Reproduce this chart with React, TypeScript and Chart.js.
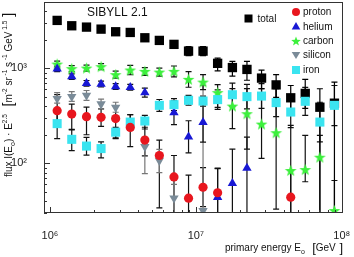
import React, { useEffect, useRef } from 'react';
import { Chart, registerables } from 'chart.js';
Chart.register(...registerables);

// primary energy bin centres [GeV]
const energy = [1.12e6, 1.41e6, 1.78e6, 2.24e6, 2.82e6, 3.55e6, 4.47e6, 5.62e6, 7.08e6, 8.91e6,
  1.12e7, 1.41e7, 1.78e7, 2.24e7, 2.82e7, 3.55e7, 4.47e7, 5.62e7, 7.08e7, 8.91e7];

const total = [3200, 2810, 2720, 2590, 2430, 2390, 2100, 1970, 1790, 1520, 1520, 1130, 1020, 975, 790, 670, 490, 545, 390, 430];
const totalHi = [3380, 2970, 2870, 2730, 2570, 2520, 2220, 2080, 1900, 1700, 1700, 1280, 1185, 1185, 960, 860, 660, 765, 610, 715];
const totalLo = [3030, 2660, 2580, 2460, 2300, 2270, 1990, 1870, 1690, 1360, 1360, 940, 830, 750, 610, 495, 355, 380, 20, 20];

const proton = [359, 330, 310, 305, 296, 239, 176, 121, 72, 43, 56, 49, null, null, null, null, 44, null, null, null];
const protonHi = [530, 420, 390, 375, 400, 325, 240, 176, 121, 75, 90, 88, null, null, null, null, 84, null, null, null];
const protonLo = [250, 225, 200, 245, 185, 150, 120, 34, 20, 20, 35, 20, null, null, null, null, 20, null, null, null];

const helium = [990, 818, 695, 684, 642, 631, 555, null, 342, 190, 270, 44, 61.5, 89, null, null, null, null, null, null];
const heliumHi = [1060, 875, 745, 735, 690, 680, 620, null, 456, 281, 437, 89, 141, 189, null, null, null, null, null, null];
const heliumLo = [925, 765, 650, 640, 600, 590, 497, null, 256, 129, 167, 20, 20, 20, null, null, null, null, null, null];

const carbon = [1110, 993, 1007, 1042, 859, 960, 930, 914, 930, 766, 717, 555, 401, 333, 259, 210, 84, 86, 116, 31.8];
const carbonHi = [1190, 1070, 1080, 1120, 935, 1075, 1020, 1005, 1060, 925, 860, 673, 611, 611, 611, 636, 251, 197, 197, 66];
const carbonLo = [1035, 925, 935, 970, 790, 857, 845, 830, 815, 633, 598, 389, 232, 141, 113, 33, 20, 64, 20, 20];

const silicon = [480, 504, 520, 421, 388, null, 150, 107, 43, null, 31.8, null, null, null, null, null, null, null, null, null];
const siliconHi = [555, 570, 585, 475, 440, null, 176, 140, 60, null, 662, null, null, null, null, null, null, null, null, null];
const siliconLo = [430, 450, 460, 375, 345, null, 78, 80, 30, null, 20, null, null, null, null, null, null, null, null, null];

const iron = [262, 179, 152, 143, 213, 272, 279, 408, 415, 461, 453, 469, 528, 504, 511, 436, 347, 450, 272, 408];
const ironHi = [350, 228, 188, 168, 239, 326, 320, 470, 480, 520, 510, 595, 700, 680, 690, 610, 505, 630, 440, 660];
const ironLo = [182, 136, 122, 114, 182, 222, 230, 352, 360, 410, 400, 370, 395, 375, 380, 310, 238, 320, 168, 250];

const xTicks = [1e6, 2e6, 3e6, 4e6, 5e6, 6e6, 7e6, 8e6, 9e6, 1e7, 2e7, 3e7, 4e7, 5e7, 6e7, 7e7, 8e7, 9e7, 1e8];
const yTicks = [30, 40, 50, 60, 70, 80, 90, 100, 200, 300, 400, 500, 600, 700, 800, 900, 1000, 2000, 3000, 4000];

const FONT = '"Liberation Sans", Arial, sans-serif';
const C_PROTON = '#e8161e';
const C_HELIUM = '#1818d4';
const C_CARBON = '#3cf03c';
const C_SILICON = '#7a8b98';
const C_IRON = '#3ae4f0';

const SUP: Record<string, string> = { '0': '⁰', '1': '¹', '2': '²', '3': '³', '4': '⁴', '5': '⁵', '6': '⁶', '7': '⁷', '8': '⁸', '9': '⁹' };

function decadeLabel(v: number) {
  const n = Math.round(Math.log10(v));
  if (Math.abs(v - Math.pow(10, n)) / v > 1e-6) return '';
  return '10' + String(n).split('').map((c) => SUP[c] || c).join('');
}

function makeStar(color: string) {
  const c = document.createElement('canvas');
  c.width = 13; c.height = 13;
  const ctx = c.getContext('2d')!;
  ctx.fillStyle = color;
  ctx.beginPath();
  for (let i = 0; i < 10; i++) {
    const r = i % 2 === 0 ? 6.2 : 2.6;
    const a = -Math.PI / 2 + (i * Math.PI) / 5;
    const px = 6.5 + r * Math.cos(a);
    const py = 7 + r * Math.sin(a);
    if (i === 0) ctx.moveTo(px, py); else ctx.lineTo(px, py);
  }
  ctx.closePath();
  ctx.fill();
  return c;
}

function points(vals: (number | null)[], hi: (number | null)[], lo: (number | null)[]) {
  const out: any[] = [];
  vals.forEach((v, i) => {
    if (v != null) out.push({ x: energy[i], y: v, hi: hi[i], lo: lo[i] });
  });
  return out;
}

type Seg = { t: string; s: number; dy?: number };

function drawRich(ctx: CanvasRenderingContext2D, segs: Seg[], x: number, y: number, align: 'left' | 'right' | 'center') {
  let w = 0;
  segs.forEach((g) => { ctx.font = `${g.s}px ${FONT}`; w += ctx.measureText(g.t).width; });
  let cx = align === 'left' ? x : align === 'right' ? x - w : x - w / 2;
  ctx.textBaseline = 'alphabetic';
  ctx.textAlign = 'left';
  segs.forEach((g) => {
    ctx.font = `${g.s}px ${FONT}`;
    ctx.fillText(g.t, cx, y + (g.dy || 0));
    cx += ctx.measureText(g.t).width;
  });
}

const errorBars = {
  id: 'errorBars',
  beforeDatasetsDraw(chart: any) {
    const { ctx, chartArea: a, scales } = chart;
    ctx.save();
    ctx.beginPath();
    ctx.rect(a.left, a.top, a.right - a.left, a.bottom - a.top);
    ctx.clip();
    ctx.lineWidth = 1.2;
    chart.data.datasets.forEach((ds: any) => {
      ctx.strokeStyle = ds.errColor || '#000';
      ds.data.forEach((p: any) => {
        if (p.hi == null || p.lo == null) return;
        const x = scales.x.getPixelForValue(p.x);
        const y1 = scales.y.getPixelForValue(p.hi);
        const y2 = scales.y.getPixelForValue(p.lo);
        ctx.beginPath();
        ctx.moveTo(x, y1); ctx.lineTo(x, y2);
        ctx.moveTo(x - 3, y1); ctx.lineTo(x + 3, y1);
        ctx.moveTo(x - 3, y2); ctx.lineTo(x + 3, y2);
        ctx.stroke();
      });
    });
    ctx.restore();
  },
};

const frame = {
  id: 'frame',
  afterDatasetsDraw(chart: any) {
    const { ctx, chartArea: a, scales } = chart;
    ctx.save();
    ctx.strokeStyle = '#333';
    ctx.lineWidth = 1;
    ctx.strokeRect(Math.round(a.left) + 0.5, Math.round(a.top) + 0.5, Math.round(a.right - a.left) - 1, Math.round(a.bottom - a.top) - 1);
    ctx.beginPath();
    scales.y.ticks.forEach((t: any) => {
      const y = Math.round(scales.y.getPixelForValue(t.value)) + 0.5;
      const len = decadeLabel(t.value) ? 6 : 3;
      ctx.moveTo(a.left, y); ctx.lineTo(a.left + len, y);
    });
    scales.x.ticks.forEach((t: any) => {
      const x = Math.round(scales.x.getPixelForValue(t.value)) + 0.5;
      const len = decadeLabel(t.value) ? 6 : 3;
      ctx.moveTo(x, a.bottom); ctx.lineTo(x, a.bottom - len);
    });
    ctx.stroke();

    // title
    ctx.fillStyle = '#111';
    ctx.font = `12px ${FONT}`;
    ctx.textAlign = 'left';
    ctx.textBaseline = 'alphabetic';
    ctx.fillText('SIBYLL 2.1', 87, 15.5);

    // legend
    const lx = 296;
    const rows: [string, string][] = [['proton', 'circle'], ['helium', 'tri'], ['carbon', 'star'], ['silicon', 'down'], ['iron', 'square']];
    const ys = [12, 26.5, 41, 55, 70];
    const cols = [C_PROTON, C_HELIUM, C_CARBON, C_SILICON, C_IRON];
    rows.forEach(([name, kind], i) => {
      const y = ys[i];
      ctx.fillStyle = cols[i];
      ctx.beginPath();
      if (kind === 'circle') ctx.arc(lx, y, 4, 0, Math.PI * 2);
      else if (kind === 'tri') { ctx.moveTo(lx, y - 4.5); ctx.lineTo(lx + 4.3, y + 3); ctx.lineTo(lx - 4.3, y + 3); ctx.closePath(); }
      else if (kind === 'down') { ctx.moveTo(lx, y + 4); ctx.lineTo(lx + 4.3, y - 3); ctx.lineTo(lx - 4.3, y - 3); ctx.closePath(); }
      else if (kind === 'square') ctx.rect(lx - 4, y - 4, 8, 8);
      else {
        for (let k = 0; k < 10; k++) {
          const r = k % 2 === 0 ? 5 : 2.1;
          const ang = -Math.PI / 2 + (k * Math.PI) / 5;
          const px = lx + r * Math.cos(ang), py = y + 0.5 + r * Math.sin(ang);
          if (k === 0) ctx.moveTo(px, py); else ctx.lineTo(px, py);
        }
        ctx.closePath();
      }
      ctx.fill();
      ctx.fillStyle = '#111';
      ctx.font = `10px ${FONT}`;
      ctx.textBaseline = 'middle';
      ctx.fillText(name, 303, y + 0.5);
    });
    ctx.fillStyle = '#000';
    ctx.fillRect(244.5, 14.5, 8, 8);
    ctx.fillStyle = '#111';
    ctx.fillText('total', 257.5, 19);

    // axis titles
    ctx.textBaseline = 'alphabetic';
    drawRich(ctx, [
      { t: 'primary energy E', s: 10 },
      { t: 'o', s: 7, dy: 2.5 },
      { t: '  [', s: 13, dy: 0.5 },
      { t: 'GeV', s: 10 },
      { t: ' ]', s: 13, dy: 0.5 },
    ], 343, 251, 'right');

    ctx.save();
    ctx.translate(12, 95);
    ctx.rotate(-Math.PI / 2);
    drawRich(ctx, [
      { t: 'flux I(E', s: 10 },
      { t: 'o', s: 7, dy: 2.5 },
      { t: ') · E', s: 10 },
      { t: '2.5', s: 6.5, dy: -5 },
      { t: '  [', s: 14, dy: 1 },
      { t: 'm', s: 10 },
      { t: '-2', s: 6.5, dy: -5 },
      { t: ' sr', s: 10 },
      { t: ' -1', s: 6.5, dy: -5 },
      { t: ' s', s: 10 },
      { t: ' -1', s: 6.5, dy: -5 },
      { t: ' GeV', s: 10 },
      { t: ' 1.5', s: 6.5, dy: -5 },
      { t: ' ]', s: 14, dy: 1 },
    ], 0, 0, 'center');
    ctx.restore();
    ctx.restore();
  },
};

export default function App() {
  const ref = useRef<HTMLCanvasElement>(null);
  useEffect(() => {
    const star = makeStar(C_CARBON);
    const chart = new Chart(ref.current!, {
      type: 'scatter',
      data: {
        datasets: [
          { label: 'proton', data: points(proton, protonHi, protonLo), pointStyle: 'circle', pointRadius: 4.6, backgroundColor: C_PROTON, borderWidth: 0, errColor: '#111' } as any,
          { label: 'iron', data: points(iron, ironHi, ironLo), pointStyle: 'rect', pointRadius: 6.4, backgroundColor: C_IRON, borderWidth: 0, errColor: '#111' } as any,
          { label: 'silicon', data: points(silicon, siliconHi, siliconLo), pointStyle: 'triangle', rotation: 180, pointRadius: 5.4, backgroundColor: C_SILICON, borderWidth: 0, errColor: '#777' } as any,
          { label: 'helium', data: points(helium, heliumHi, heliumLo), pointStyle: 'triangle', pointRadius: 5.4, backgroundColor: C_HELIUM, borderWidth: 0, errColor: '#111' } as any,
          { label: 'carbon', data: points(carbon, carbonHi, carbonLo), pointStyle: star, pointRadius: 6, backgroundColor: C_CARBON, borderWidth: 0, errColor: '#111' } as any,
          { label: 'total', data: points(total, totalHi, totalLo), pointStyle: 'rect', pointRadius: 6.6, backgroundColor: '#000', borderWidth: 0, errColor: '#000' } as any,
        ],
      },
      options: {
        animation: false,
        responsive: false,
        events: [],
        layout: { autoPadding: false, padding: { top: 2, right: 11, left: 0, bottom: 0 } },
        plugins: { legend: { display: false }, tooltip: { enabled: false } },
        scales: {
          x: {
            type: 'logarithmic',
            min: 9.1e5,
            max: 1.02e8,
            grid: { display: false },
            border: { display: false },
            afterBuildTicks: (s: any) => { s.ticks = xTicks.map((v) => ({ value: v })); },
            afterFit: (s: any) => { s.height = 44; s.paddingLeft = 0; s.paddingRight = 0; s.paddingTop = 0; s.paddingBottom = 0; },
            ticks: {
              autoSkip: false,
              maxRotation: 0,
              padding: 8,
              color: '#222',
              font: { family: FONT, size: 11 },
              callback: (v: any) => decadeLabel(Number(v)),
            },
          },
          y: {
            type: 'logarithmic',
            min: 30,
            max: 5000,
            grid: { display: false },
            border: { display: false },
            afterBuildTicks: (s: any) => { s.ticks = yTicks.map((v) => ({ value: v })); },
            afterFit: (s: any) => { s.width = 44; s.paddingTop = 0; s.paddingBottom = 0; s.paddingLeft = 0; s.paddingRight = 0; },
            ticks: {
              autoSkip: false,
              padding: 9,
              color: '#222',
              font: { family: FONT, size: 11 },
              callback: (v: any) => decadeLabel(Number(v)),
            },
          },
        },
      },
      plugins: [errorBars, frame],
    } as any);
    return () => chart.destroy();
  }, []);
  return (
    <div style={{ position: 'fixed', left: 0, top: 0, width: 354, height: 257, background: '#fff' }}>
      <canvas ref={ref} width={354} height={257} />
    </div>
  );
}
